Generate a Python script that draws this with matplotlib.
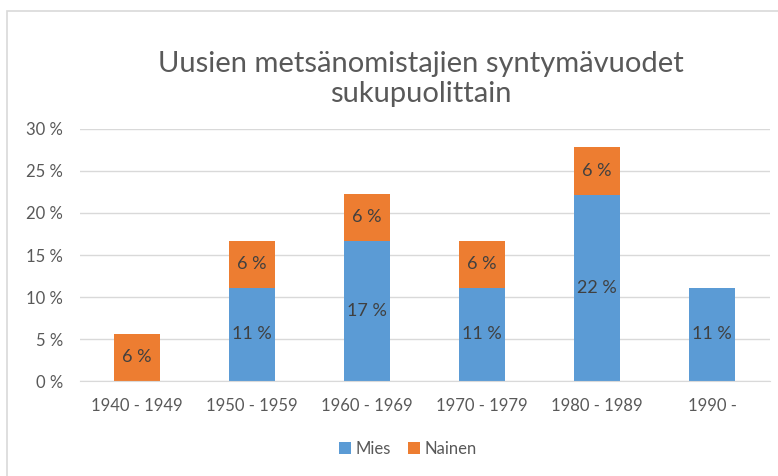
import matplotlib.pyplot as plt
from matplotlib.patches import Rectangle
import numpy as np

plt.rcParams['font.family'] = ['Lato', 'DejaVu Sans']

## data
kategoriat = ['1940 - 1949', '1950 - 1959', '1960 - 1969', '1970 - 1979', '1980 - 1989', '1990 -']
mies = [0, 11.1, 16.7, 11.1, 22.2, 11.1]
nainen = [5.6, 5.6, 5.6, 5.6, 5.6, 0]
y_ticks = [0, 5, 10, 15, 20, 25, 30]

sininen = '#5B9BD5'
oranssi = '#ED7D31'
harmaa = '#595959'

fig = plt.figure(figsize=(7.78, 4.76), dpi=100)
# chart border (Excel style frame)
fig.patches.append(Rectangle((7 / 778, -0.1), 1.0, 1 - 11 / 476 + 0.1,
                             transform=fig.transFigure, fill=False,
                             edgecolor='#D9D9D9', linewidth=1.2))

ax = fig.add_axes([79.5 / 778, 95 / 476, 690 / 778, 252 / 476])
x = np.arange(len(kategoriat))
b1 = ax.bar(x, mies, width=0.4, color=sininen, label='Mies', zorder=2)
b2 = ax.bar(x, nainen, width=0.4, bottom=mies, color=oranssi, label='Nainen', zorder=2)

for rects, vals, alas in [(b1, mies, [0] * len(mies)), (b2, nainen, mies)]:
    for r, v, b in zip(rects, vals, alas):
        if v > 0:
            ax.text(r.get_x() + r.get_width() / 2, b + v / 2, f'{round(v)} %',
                    ha='center', va='center', fontsize=13, color='#404040')

ax.set_xlim(-0.5, len(kategoriat) - 0.5)
ax.set_ylim(0, 30)
ax.set_yticks(y_ticks)
ax.set_yticklabels([f'{t} %' for t in y_ticks])
ax.set_xticks(x)
ax.set_xticklabels(kategoriat)
ax.tick_params(axis='both', length=0, colors=harmaa, labelsize=12)
ax.tick_params(axis='x', pad=12)
ax.tick_params(axis='y', pad=12)
ax.grid(axis='y', color='#D9D9D9', linewidth=1, zorder=0)
for s in ['top', 'right', 'left']:
    ax.spines[s].set_visible(False)
ax.spines['bottom'].set_color('#D9D9D9')

fig.text(421 / 778, 1 - 79 / 476, 'Uusien metsänomistajien syntymävuodet\nsukupuolittain',
         ha='center', va='center', fontsize=21, color=harmaa,
         linespacing=1.15)

fig.legend(handles=[b1, b2], loc='center', bbox_to_anchor=(408 / 778, 1 - 449 / 476),
           ncol=2, frameon=False, fontsize=12, labelcolor=harmaa,
           handlelength=0.7, handleheight=0.7, handletextpad=0.3, columnspacing=1.0)

plt.savefig('out.png', dpi=100)
